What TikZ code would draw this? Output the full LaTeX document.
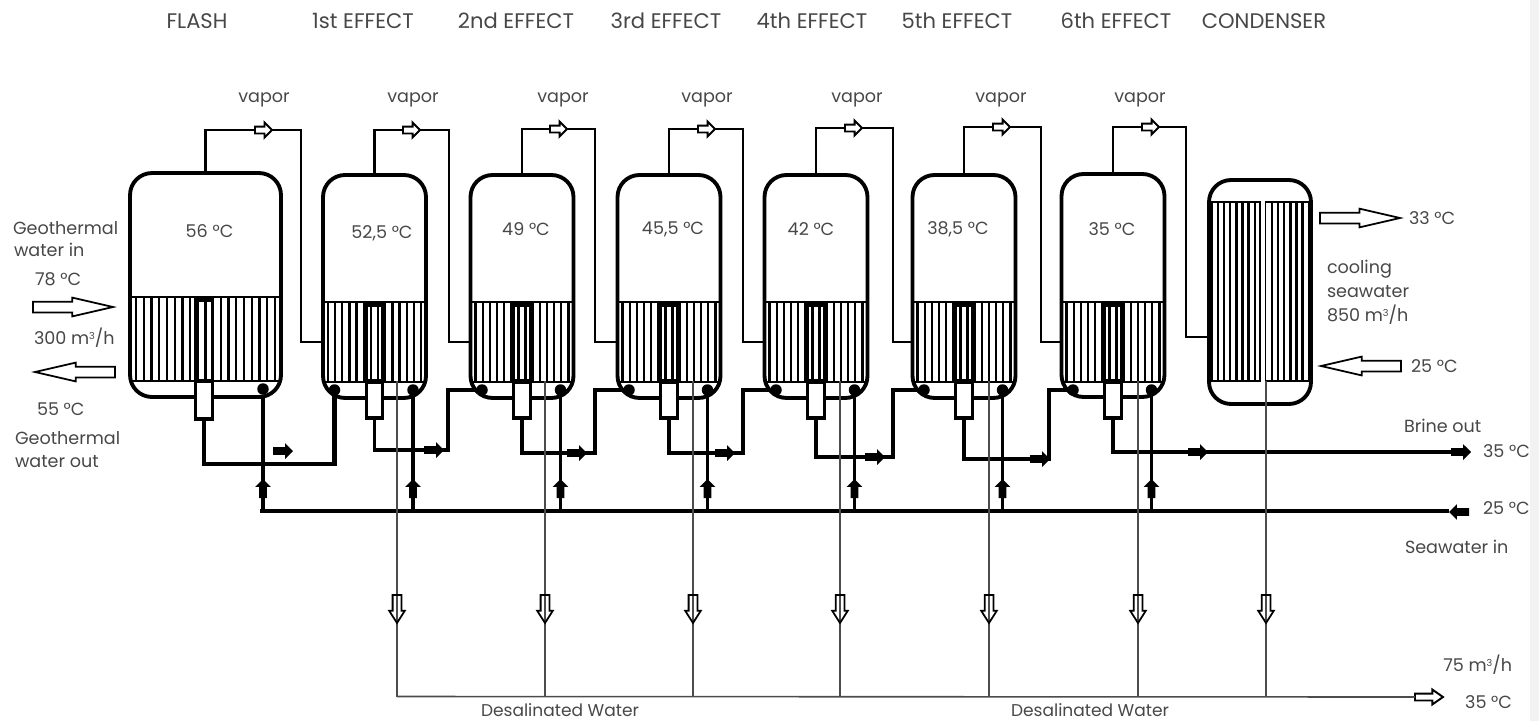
\documentclass[tikz,border=0pt]{standalone}
\usepackage{fontspec}
\setmainfont{Poppins}
\usetikzlibrary{arrows.meta,positioning,shapes.arrows,calc}
\newcommand{\cubed}{\raisebox{0.55ex}{\fontsize{5.5}{6}\selectfont 3}}

\begin{document}
\begin{tikzpicture}[
      x=0.02cm,y=-0.02cm,
      every node/.style={font=\fontsize{10}{12}\selectfont,text=black!72,outer sep=0pt,inner sep=0pt},
      headn/.style={font=\fontsize{12}{14}\selectfont},
      vessel/.style={draw,rounded corners=0.44cm,line width=2.2pt,inner sep=0pt},
      bundle/.style={draw,line width=0.9pt,inner sep=0pt},
      tube/.style={line width=1.3pt},
      box/.style={draw,line width=1.8pt,inner sep=0pt,minimum width=0.33cm},
      dotn/.style={circle,fill=black,inner sep=0pt,minimum size=0.23cm},
      vap/.style={line width=1.2pt},
      feed/.style={line width=2pt},
      dist/.style={line width=0.7pt,black!70},
      bigarr/.style={single arrow,draw,fill=white,line width=1pt,inner xsep=0pt,inner ysep=0.09cm,anchor=tail,
        minimum height=1.6cm,minimum width=0.34cm,single arrow head extend=0.08cm,single arrow tip angle=26},
      hol/.style={single arrow,draw,fill=white,line width=1.1pt,inner xsep=0pt,inner ysep=0.05cm,anchor=tail,
        minimum height=0.34cm,minimum width=0.26cm,single arrow head extend=0.08cm,single arrow tip angle=90},
      holdown/.style={single arrow,draw,line width=1pt,inner xsep=0pt,inner ysep=0.07cm,anchor=tail,
        minimum height=0.56cm,minimum width=0.28cm,single arrow head extend=0.07cm,single arrow tip angle=65,rotate=-90},
      sol/.style={single arrow,fill=black,inner xsep=0pt,inner ysep=0.07cm,anchor=tail,
        minimum height=0.4cm,minimum width=0.3cm,single arrow head extend=0.08cm,single arrow tip angle=90}
    ]
      \useasboundingbox (0,0) rectangle (1539,721);
      \fill[black!5] (1530,0) rectangle (1539,721);

      % headings
      \foreach \i/\x/\t in {a/197/FLASH,b/363/1st EFFECT,c/516/2nd EFFECT,d/666/3rd EFFECT,e/812/4th EFFECT,f/957/5th EFFECT,g/1116/6th EFFECT,h/1264/CONDENSER} {
        \node[headn] (head\i) at (\x,21) {\t};
      }

      % flash vessel
      \node[vessel,minimum width=3.02cm,minimum height=4.48cm] (v0) at (205.5,285) {};
      \node[bundle,minimum width=3.02cm,minimum height=1.68cm] (t0) at (205.5,339) {};
      \foreach \k in {-9,...,9} {
        \draw[tube] ({205.5+\k*7.7},297) -- ({205.5+\k*7.7},381);
      }
      \node[box,minimum height=1.62cm] (u0) at (204,340.5) {};
      \node[box,fill=white,minimum height=0.76cm] (b0) at (204,400) {};
      \node (temp0) at (209.5,231) {56 °C};
      \node[dotn] (dr0) at (263,389) {};

      % effects
      \foreach \n/\x/\yo/\tx/\ty/\t in {1/374.5/175/382/233/{52,5},2/522/175/526/229/49,3/669/175/673/229/{45,5},4/816/175/811/229/42,5/964/175/958/229/{38,5},6/1113/174/1112/229/35} {
        \node[vessel,minimum width=2.06cm,minimum height=4.46cm,anchor=north] (v\n) at (\x,\yo) {};
        \node[bundle,minimum width=2.06cm,minimum height=1.6cm] (t\n) at (\x,342) {};
        \foreach \k in {-6.5,-5.5,...,6.5} {
          \draw[tube] ({\x+\k*7.15},302) -- ({\x+\k*7.15},382);
        }
        \node[box,minimum height=1.52cm] (u\n) at (\x,343) {};
        \node[box,fill=white,minimum height=0.72cm] (b\n) at (\x,400) {};
        \node (temp\n) at (\tx,\ty) {\t{} °C};
        \node[dotn] (dl\n) at (\x-40,390) {};
        \node[dotn] (dr\n) at (\x+38.5,390) {};
      }

      % condenser
      \node[vessel,minimum width=2.04cm,minimum height=4.48cm] (v7) at (1260,292) {};
      \node[bundle,minimum width=0.96cm,minimum height=3.58cm] (ta) at (1236,291.5) {};
      \node[bundle,minimum width=0.9cm,minimum height=3.58cm] (tb) at (1288,291.5) {};
      \foreach \k in {1,...,7} {
        \draw[tube] ({1212+\k*6.1},202) -- ({1212+\k*6.1},381);
        \draw[tube] ({1266+\k*6.1},202) -- ({1266+\k*6.1},381);
      }

      % vapor lines
      \foreach \n/\m/\xk/\yk/\yi/\xa/\xv in {0/1/301/130/342/255/264,1/2/449/130/342/403/413,2/3/595/129/342/550/563,3/4/743/129/342/698/707,4/5/893/128/342/845/857,5/6/1041/127/342/993/1001,6/7/1186/127/337/1142/1140} {
        \coordinate (k\n) at (\xk,\yk);
        \coordinate (i\m) at (\xk+20,\yi);
        \draw[vap] (v\n.north) |- (k\n) |- (v\m.west |- i\m);
        \node[hol] (ha\n) at (\xa,\yk) {};
        \node (vap\n) at (\xv,100) {vapor};
      }

      % brine lines
      \coordinate (j1) at (dl1 |- 0,464);
      \draw[feed,line width=2.4pt] (b0.south) |- (j1) -- (dl1);
      \foreach \n/\m/\xj/\yj/\xa in {1/2/448/450/424,2/3/595/453/567,3/4/743/453/715,4/5/893/457/865,5/6/1049/459/1030} {
        \coordinate (j\m) at (\xj,\yj);
        \draw[feed] (b\n.south) |- (j\m) |- (dl\m);
        \node[sol] (sa\n) at (\xa,\yj) {};
      }
      \node[sol] (sa0) at (273,451) {};
      \node[sol] (brend) at (1451,452) {};
      \draw[feed] (b6.south) |- (brend.tail);
      \node[sol] (sa6) at (1188,452) {};

      % seawater header
      \node[sol,rotate=180] (seaend) at (1469,512) {};
      \coordinate (h0) at (260,511);
      \draw[feed] (h0) -- (h0 -| seaend.tip);
      \foreach \n in {0,...,6} {
        \draw[feed] (dr\n) -- (dr\n |- h0);
        \node[sol,rotate=90,minimum height=0.38cm] at (dr\n |- 0,498) (ra\n) {};
      }

      % distillate
      \coordinate (bus) at (1420,696.5);
      \foreach \n/\x in {1/397,2/545,3/693,4/840,5/989,6/1138,7/1266} {
        \coordinate (s\n) at (\x,381);
        \draw[dist] (s\n) -- (s\n |- bus);
        \node[holdown] (da\n) at (\x,595) {};
      }
      \node[hol,minimum height=0.56cm,single arrow tip angle=70] (busend) at (1415,697) {};
      \draw[dist,line width=0.9pt] (s1 |- bus) -- (busend.tail);

      % big arrows
      \node[bigarr] (gin) at (33,307) {};
      \node[bigarr,rotate=180] (gout) at (115,372) {};
      \node[bigarr] (cout) at (1320,218) {};
      \node[bigarr,rotate=180] (cin) at (1401,366) {};

      % labels
      \node[anchor=west] (l1) at (13,228) {Geothermal};
      \node[anchor=west] (l2) at (14,250) {water in};
      \node[anchor=west] (l3) at (35,279) {78 °C};
      \node[anchor=west] (l4) at (34,338) {300 m\cubed/h};
      \node[anchor=west] (l5) at (37,409) {55 °C};
      \node[anchor=west] (l6) at (15,438) {Geothermal};
      \node[anchor=west] (l7) at (15,462) {water out};
      \node[anchor=west] (r1) at (1409,218) {33 °C};
      \node[anchor=west] (r2) at (1327,269) {cooling};
      \node[anchor=west] (r3) at (1327,292) {seawater};
      \node[anchor=west] (r4) at (1327,315) {850 m\cubed/h};
      \node[anchor=west] (r5) at (1411,366) {25 °C};
      \node[anchor=west] (r6) at (1404,426) {Brine out};
      \node[anchor=west] (r7) at (1483,451) {35 °C};
      \node[anchor=west] (r8) at (1483,508) {25 °C};
      \node[anchor=west] (r9) at (1405,547) {Seawater in};
      \node[anchor=east] (r10) at (1512,665) {75 m\cubed/h};
      \node[anchor=east] (r11) at (1512,702) {35 °C};
      \node[font=\fontsize{9.7}{12}\selectfont] (w1) at (560,710) {Desalinated Water};
      \node[font=\fontsize{9.7}{12}\selectfont] (w2) at (1090,710) {Desalinated Water};
    \end{tikzpicture}
\end{document}
